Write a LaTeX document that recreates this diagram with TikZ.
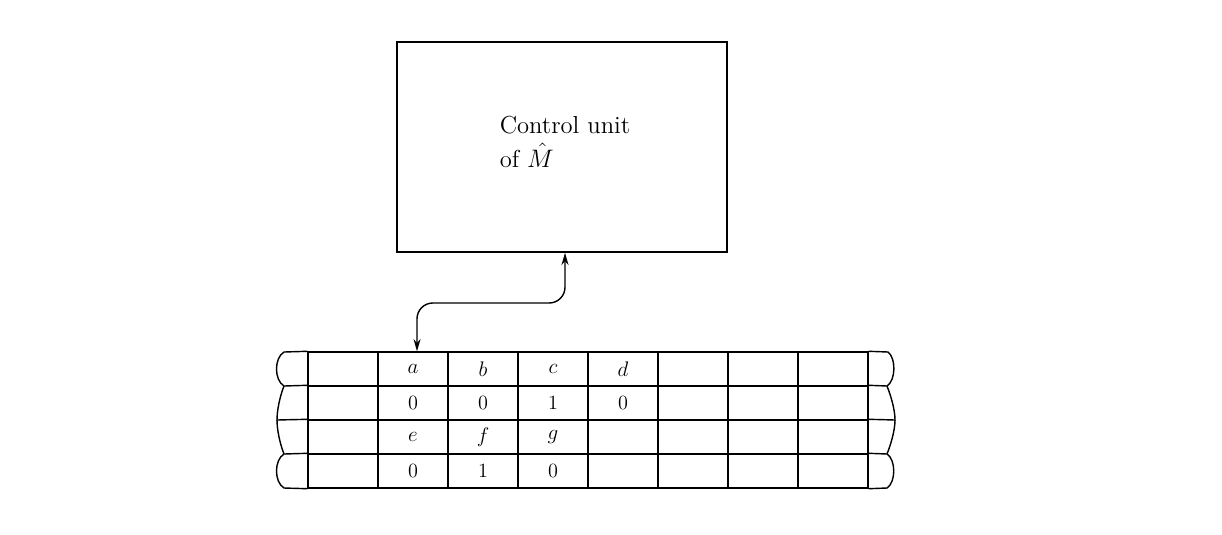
\documentclass[tikz,border=0pt]{standalone}
\usetikzlibrary{arrows.meta}

\tikzset{
  cell/.style={draw, line width=0.8pt, minimum width=1.4cm, minimum height=0.68cm, inner sep=0pt},
  sym/.style={inner sep=1pt, font=\fontsize{11.5}{13}\selectfont},
  tapeedge/.style={line width=0.8pt},
  unitbox/.style={draw, line width=0.9pt, minimum width=6.6cm, minimum height=4.2cm},
  unittext/.style={align=left, inner sep=0pt, font=\fontsize{14}{19}\selectfont},
  link/.style={line width=0.8pt, rounded corners=9pt, {Stealth[length=7pt,width=4pt]}-{Stealth[length=7pt,width=4pt]}}
}

\begin{document}
\begin{tikzpicture}[x=0.02cm, y=-0.02cm]
    \useasboundingbox (0,0) rectangle (1222,534);
    % control unit
    \node[unitbox] (ctrl) at (562,147) {};
    \node[unittext] (ctrltext) at (565,142) {Control unit\\of $\hat{M}$};
    % tape cells
    \foreach \r in {1,...,4}
      \foreach \c in {0,...,7}
        \node[cell] (c\r\c) at ({343+70*\c},{335+34*\r}) {};
    % symbols on the tape
    \node[sym] (la) at (c11) {$a$};
    \node[sym] (lb) at (c12) {$b$};
    \node[sym] (lc) at (c13) {$c$};
    \node[sym] (ld) at (c14) {$d$};
    \node[sym] (n1) at (c21) {0};
    \node[sym] (n2) at (c22) {0};
    \node[sym] (n3) at (c23) {1};
    \node[sym] (n4) at (c24) {0};
    \node[sym] (le) at (c31) {$e$};
    \node[sym] (lf) at (c32) {$f$};
    \node[sym] (lg) at (c33) {$g$};
    \node[sym] (m1) at (c41) {0};
    \node[sym] (m2) at (c42) {1};
    \node[sym] (m3) at (c43) {0};
    % torn ends of the tape
    \draw[tapeedge] (c10.north west) -- (284,352) .. controls (274,358) and (274,380) .. (284,386) -- (c20.north west);
    \draw[tapeedge] (284,386) .. controls (280,396) and (277,410) .. (277,420) -- (c30.north west);
    \draw[tapeedge] (277,420) .. controls (277,430) and (280,444) .. (284,454) -- (c40.north west);
    \draw[tapeedge] (284,454) .. controls (274,460) and (274,482) .. (284,488) -- (c40.south west);
    \draw[tapeedge] (c17.north east) -- (888,352) .. controls (896,358) and (896,380) .. (887,386) -- (c27.north east);
    \draw[tapeedge] (887,386) .. controls (891,396) and (895,410) .. (895,420) -- (c37.north east);
    \draw[tapeedge] (895,420) .. controls (895,430) and (891,444) .. (887,454) -- (c47.north east);
    \draw[tapeedge] (887,454) .. controls (896,460) and (896,482) .. (887,488) -- (c47.south east);
    % read/write head link
    \draw[link] ([xshift=0.06cm]ctrl.south) -- ([xshift=0.06cm]ctrl.south |- 0,303) -- ([xshift=0.08cm]c11.north |- 0,303) -- ([xshift=0.08cm]c11.north);
\end{tikzpicture}
\end{document}
